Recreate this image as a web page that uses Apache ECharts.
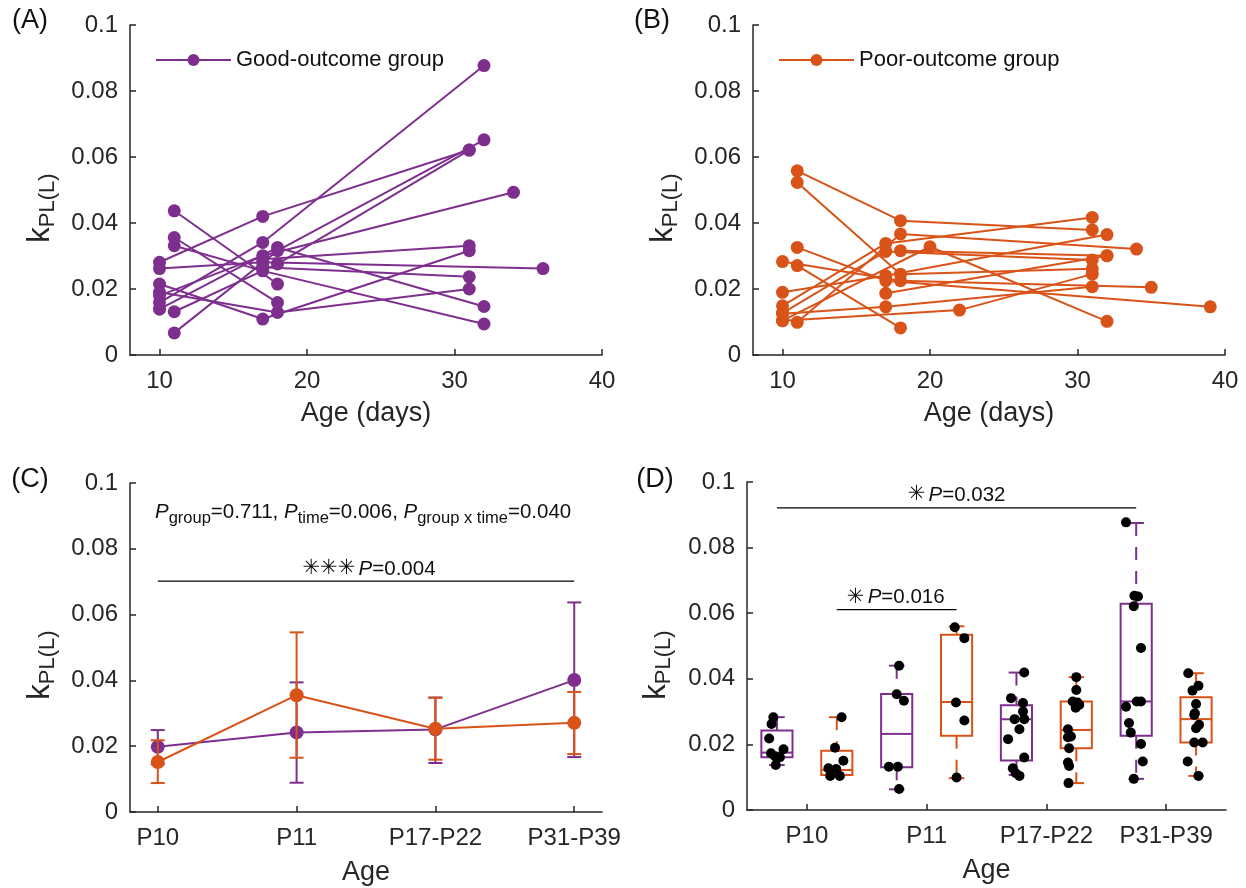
<!DOCTYPE html>
<html><head><meta charset="utf-8">
<script src="https://cdn.jsdelivr.net/npm/echarts@6/dist/echarts.min.js"></script>
<style>html,body{margin:0;padding:0;background:#fff}#c{width:1246px;height:888px}</style>
</head><body><div id="c"></div>
<script>
// ---------------- DATA ----------------
// Panel A: good-outcome subjects, each a list of [age (days), kPL(L)]
const goodSubjects = [
  [[10,0.0281],[17,0.0420],[31,0.0621]],
  [[11,0.0437],[18,0.0215]],
  [[11,0.0356],[18,0.0159]],
  [[11,0.0331],[17,0.0255],[32,0.0094]],
  [[10,0.0159],[17,0.0341],[32,0.0877]],
  [[11,0.0067],[18,0.0316],[32,0.0652]],
  [[11,0.0131],[18,0.0276],[31,0.0621]],
  [[10,0.0262],[17,0.0281],[36,0.0262]],
  [[10,0.0215],[17,0.0109],[31,0.0316]],
  [[10,0.0190],[18,0.0129],[31,0.0200]],
  [[10,0.0180],[17,0.0301],[34,0.0493]],
  [[10,0.0139],[18,0.0326],[32,0.0147]],
  [[17,0.0290],[31,0.0331]],
  [[17,0.0266],[31,0.0237]]
];
// Panel B: poor-outcome subjects
const poorSubjects = [
  [[11,0.0558],[18,0.0407],[31,0.0379]],
  [[11,0.0523],[18,0.0245],[31,0.0261]],
  [[10,0.0190],[17,0.0240],[32,0.0365]],
  [[11,0.0271],[18,0.0082]],
  [[11,0.0326],[17,0.0225],[39,0.0146]],
  [[11,0.0099],[18,0.0367],[34,0.0321]],
  [[10,0.0104],[20,0.0328],[32,0.0102]],
  [[10,0.0149],[17,0.0338],[31,0.0417]],
  [[10,0.0127],[17,0.0314],[31,0.0288]],
  [[10,0.0283],[18,0.0225],[35,0.0205]],
  [[10,0.0104],[22,0.0136],[31,0.0245]],
  [[10,0.0125],[17,0.0146],[31,0.0207]],
  [[17,0.0187],[32,0.0301]],
  [[18,0.0316],[32,0.0301]]
];
const ageTicks = [10,20,30,40];
const kTicksMax = 0.1;

// Panel C: mean and error bars per age group
const ageGroups = ['P10','P11','P17-P22','P31-P39'];
const goodMean = [0.0198,0.0242,0.0251,0.0401];
const goodLow  = [0.0145,0.0089,0.0149,0.0167];
const goodHigh = [0.0249,0.0394,0.0348,0.0637];
const poorMean = [0.0152,0.0355,0.0253,0.0271];
const poorLow  = [0.0088,0.0165,0.0159,0.0176];
const poorHigh = [0.0218,0.0546,0.0347,0.0365];
const sigC = {from:1, to:4, level:0.0702};

// Panel D: box stats [min, q1, median, q3, max] per age group
const goodBox = [
  [0.0137,0.0161,0.0175,0.0242,0.0283],
  [0.0063,0.0130,0.0232,0.0354,0.0440],
  [0.0107,0.0151,0.0277,0.0319,0.0419],
  [0.0095,0.0226,0.0331,0.0629,0.0875]
];
const poorBox = [
  [0.0104,0.0107,0.0122,0.0181,0.0283],
  [0.0097,0.0226,0.0329,0.0534,0.0560],
  [0.0082,0.0188,0.0244,0.0331,0.0405],
  [0.0104,0.0206,0.0277,0.0344,0.0417]
];
// individual points per age group (values) and their horizontal jitter
const goodDots = [
  [0.0283,0.0262,0.0218,0.0185,0.0173,0.0163,0.0161,0.0137],
  [0.0440,0.0353,0.0333,0.0132,0.0132,0.0064],
  [0.0419,0.0341,0.0326,0.0300,0.0277,0.0277,0.0246,0.0216,0.0160,0.0127,0.0112,0.0104],
  [0.0877,0.0653,0.0651,0.0621,0.0494,0.0331,0.0331,0.0315,0.0265,0.0236,0.0201,0.0148,0.0095]
];
const goodJitter = [
  [-0.06,-0.09,-0.13,0.11,-0.10,-0.03,0.05,-0.02],
  [0.04,0.0,0.12,-0.13,0.02,0.04],
  [0.13,-0.09,0.11,0.11,-0.03,0.13,0.05,-0.14,0.13,-0.06,-0.01,0.05],
  [-0.17,-0.03,0.03,-0.04,0.08,0.01,0.08,-0.17,-0.12,-0.09,0.08,0.11,-0.04]
];
const poorDots = [
  [0.0283,0.0190,0.0150,0.0127,0.0125,0.0104,0.0104],
  [0.0557,0.0524,0.0328,0.0273,0.0099],
  [0.0405,0.0366,0.0331,0.0328,0.0321,0.0312,0.0246,0.0224,0.0222,0.0188,0.0145,0.0134,0.0082],
  [0.0417,0.0379,0.0364,0.0323,0.0295,0.0290,0.0260,0.0249,0.0206,0.0206,0.0148,0.0104]
];
const poorJitter = [
  [0.08,-0.03,0.11,-0.14,-0.01,-0.11,0.05],
  [-0.03,0.13,-0.01,0.13,0.0],
  [0.0,0.0,-0.06,0.02,0.05,-0.01,-0.14,-0.09,-0.14,-0.12,-0.14,-0.12,-0.13],
  [-0.13,0.04,-0.06,0.0,-0.02,-0.03,0.05,0.0,-0.03,0.11,-0.14,0.04]
];
const sigD = [{from:1, to:7, level:0.0921, text:'P=0.032'}, {from:2, to:4, level:0.0611, text:'P=0.016'}];

// ---------------- STYLE ----------------
const PURPLE = '#7E2F8E', ORANGE = '#D95319', INK = '#262626';
const FONT = '"Liberation Sans", Arial, Helvetica, sans-serif';

const chart = echarts.init(document.getElementById('c'), null, {renderer:'canvas'});

const grids = [
  {left:130, top:25, width:472, height:330},
  {left:753, top:25, width:472, height:330},
  {left:130, top:483, width:472, height:329},
  {left:747, top:482, width:479, height:328}
].map(g => Object.assign({outerBoundsMode:'none', containLabel:false}, g));

const axLine = {show:true, onZero:false, lineStyle:{color:INK, width:1.5}};
const axTick = {show:true, inside:true, length:6, lineStyle:{color:INK, width:1.5}};
const labStyle = {color:INK, fontSize:24, fontFamily:FONT};

function yAx(gi){
  return {gridIndex:gi, type:'value', min:0, max:kTicksMax, interval:0.02,
    axisLine:axLine, axisTick:axTick, splitLine:{show:false},
    axisLabel:Object.assign({margin:12, formatter:v => String(Math.round(v*100)/100)}, labStyle)};
}
function xAx(gi, min, max, ticks, fmt, name, gap){
  return {gridIndex:gi, type:'value', min:min, max:max,
    axisLine:axLine, splitLine:{show:false},
    axisTick:Object.assign({customValues:ticks}, axTick),
    axisLabel:Object.assign({margin:14, customValues:ticks, formatter:fmt, showMinLabel:true, showMaxLabel:true}, labStyle),
    name:name, nameLocation:'middle', nameGap:gap,
    nameTextStyle:{color:INK, fontSize:27, fontFamily:FONT}};
}

const series = [];
goodSubjects.forEach(s => series.push({type:'line', name:'Good-outcome group', xAxisIndex:0, yAxisIndex:0,
  data:s, symbol:'circle', symbolSize:13, color:PURPLE, lineStyle:{width:2, color:PURPLE},
  itemStyle:{color:PURPLE, opacity:1}, animation:false}));
poorSubjects.forEach(s => series.push({type:'line', name:'Poor-outcome group', xAxisIndex:1, yAxisIndex:1,
  data:s, symbol:'circle', symbolSize:13, color:ORANGE, lineStyle:{width:2, color:ORANGE},
  itemStyle:{color:ORANGE, opacity:1}, animation:false}));

// Panel C
function errRender(color){
  return function(params, api){
    const x = api.value(0);
    const lo = api.coord([x, api.value(1)]), hi = api.coord([x, api.value(2)]);
    const cw = 7;
    const st = {stroke:color, lineWidth:2};
    return {type:'group', children:[
      {type:'line', shape:{x1:lo[0], y1:lo[1], x2:hi[0], y2:hi[1]}, style:st},
      {type:'line', shape:{x1:lo[0]-cw, y1:lo[1], x2:lo[0]+cw, y2:lo[1]}, style:st},
      {type:'line', shape:{x1:hi[0]-cw, y1:hi[1], x2:hi[0]+cw, y2:hi[1]}, style:st}
    ]};
  };
}
series.push({type:'custom', name:'gErr', xAxisIndex:2, yAxisIndex:2, renderItem:errRender(PURPLE),
  encode:{x:0, y:[1,2]}, data:ageGroups.map((a,i)=>[i+1, goodLow[i], goodHigh[i]]), z:2, silent:true, animation:false});
series.push({type:'line', name:'gMean', xAxisIndex:2, yAxisIndex:2, data:goodMean.map((v,i)=>[i+1,v]),
  symbol:'circle', symbolSize:14, color:PURPLE, lineStyle:{width:2,color:PURPLE}, itemStyle:{color:PURPLE}, z:3, animation:false});
series.push({type:'custom', name:'pErr', xAxisIndex:2, yAxisIndex:2, renderItem:errRender(ORANGE),
  encode:{x:0, y:[1,2]}, data:ageGroups.map((a,i)=>[i+1, poorLow[i], poorHigh[i]]), z:4, silent:true, animation:false});
series.push({type:'line', name:'pMean', xAxisIndex:2, yAxisIndex:2, data:poorMean.map((v,i)=>[i+1,v]),
  symbol:'circle', symbolSize:14, color:ORANGE, lineStyle:{width:2,color:ORANGE}, itemStyle:{color:ORANGE}, z:5, animation:false});
series.push({type:'line', name:'sigC', xAxisIndex:2, yAxisIndex:2, data:[[sigC.from,sigC.level],[sigC.to,sigC.level]],
  symbol:'none', lineStyle:{width:1.2, color:'#000'}, silent:true, animation:false});

// Panel D
function boxRender(color){
  return function(params, api){
    const x = api.value(0);
    const c = v => api.coord([x, v]);
    const pMin=c(api.value(1)), pQ1=c(api.value(2)), pMd=c(api.value(3)), pQ3=c(api.value(4)), pMax=c(api.value(5));
    const hw = api.size([1,0])[0]*0.26, cw = hw*0.5, cx = pMd[0];
    const solid = {stroke:color, lineWidth:2};
    const dashed = {stroke:color, lineWidth:2, lineDash:[13,11]};
    return {type:'group', children:[
      {type:'line', shape:{x1:cx, y1:pMax[1], x2:cx, y2:pQ3[1]}, style:dashed},
      {type:'line', shape:{x1:cx, y1:pQ1[1], x2:cx, y2:pMin[1]}, style:dashed},
      {type:'line', shape:{x1:cx-cw, y1:pMax[1], x2:cx+cw, y2:pMax[1]}, style:solid},
      {type:'line', shape:{x1:cx-cw, y1:pMin[1], x2:cx+cw, y2:pMin[1]}, style:solid},
      {type:'rect', shape:{x:cx-hw, y:pQ3[1], width:2*hw, height:pQ1[1]-pQ3[1]}, style:{stroke:color, lineWidth:2, fill:'rgba(0,0,0,0)'}},
      {type:'line', shape:{x1:cx-hw, y1:pMd[1], x2:cx+hw, y2:pMd[1]}, style:solid}
    ]};
  };
}
series.push({type:'custom', name:'gBox', xAxisIndex:3, yAxisIndex:3, renderItem:boxRender(PURPLE),
  encode:{x:0, y:[1,2,3,4,5]}, data:goodBox.map((b,i)=>[2*i+1].concat(b)), silent:true, animation:false, z:2});
series.push({type:'custom', name:'pBox', xAxisIndex:3, yAxisIndex:3, renderItem:boxRender(ORANGE),
  encode:{x:0, y:[1,2,3,4,5]}, data:poorBox.map((b,i)=>[2*i+2].concat(b)), silent:true, animation:false, z:2});
const dots = [];
goodDots.forEach((arr,i)=>arr.forEach((v,j)=>dots.push([2*i+1+goodJitter[i][j], v])));
poorDots.forEach((arr,i)=>arr.forEach((v,j)=>dots.push([2*i+2+poorJitter[i][j], v])));
series.push({type:'scatter', name:'dots', xAxisIndex:3, yAxisIndex:3, data:dots, symbol:'circle', symbolSize:10,
  itemStyle:{color:'#000', opacity:1}, z:6, silent:true, animation:false});
sigD.forEach((s,k)=>series.push({type:'line', name:'sigD'+k, xAxisIndex:3, yAxisIndex:3,
  data:[[s.from,s.level],[s.to,s.level]], symbol:'none', lineStyle:{width:1.2,color:'#000'}, silent:true, animation:false}));

const legendBase = {orient:'horizontal', itemWidth:75, itemHeight:15, itemGap:10, top:49, padding:0,
  textStyle:{fontSize:22, color:'#111', fontFamily:FONT}, selectedMode:false};

chart.setOption({
  animation:false,
  backgroundColor:'#fff',
  grid:grids,
  xAxis:[
    xAx(0, 8, 40, ageTicks, v=>String(v), 'Age (days)', 45),
    xAx(1, 8, 40, ageTicks, v=>String(v), 'Age (days)', 45),
    xAx(2, 0.8, 4.2, [1,2,3,4], v=>ageGroups[Math.round(v)-1], 'Age', 47),
    xAx(3, 0.5, 8.5, [1.5,3.5,5.5,7.5], v=>ageGroups[Math.round((v-1.5)/2)], 'Age', 47)
  ],
  yAxis:[yAx(0), yAx(1), yAx(2), yAx(3)],
  legend:[
    Object.assign({}, legendBase, {data:['Good-outcome group'], left:155}),
    Object.assign({}, legendBase, {data:['Poor-outcome group'], left:778})
  ],
  series:series
});

// ---------------- TEXT ----------------
const yName = (x,y) => ({type:'text', x:x, y:y, rotation:Math.PI/2,
  style:{text:'{k|k}{s|PL(L)}', align:'center', verticalAlign:'middle', fill:INK,
    rich:{k:{fontSize:31, fontFamily:FONT, lineHeight:38, fill:INK}, s:{fontSize:22, fontFamily:FONT, verticalAlign:'bottom', lineHeight:20, fill:INK}}}});
const panel = (t,x,y) => ({type:'text', x:x, y:y, style:{text:t, fontSize:27, fontFamily:FONT, fill:'#111', align:'center', verticalAlign:'middle'}});
const rich = {
  n:{fontSize:20.5, fontFamily:FONT, fill:'#111', lineHeight:30},
  i:{fontSize:20.5, fontFamily:FONT, fontStyle:'italic', fill:'#111', lineHeight:30},
  s:{fontSize:16.5, fontFamily:FONT, fill:'#111', verticalAlign:'bottom', lineHeight:15},
  a:{fontSize:21, fontFamily:'"DejaVu Sans", sans-serif', fill:'#111', lineHeight:30}
};
const pc = chart.convertToPixel({xAxisIndex:2, yAxisIndex:2}, [(sigC.from+sigC.to)/2, sigC.level]);
const pd0 = chart.convertToPixel({xAxisIndex:3, yAxisIndex:3}, [(sigD[0].from+sigD[0].to)/2, sigD[0].level]);
const pd1 = chart.convertToPixel({xAxisIndex:3, yAxisIndex:3}, [(sigD[1].from+sigD[1].to)/2, sigD[1].level]);
chart.setOption({graphic:[
  panel('(A)', 30, 21), panel('(B)', 652, 21), panel('(C)', 30, 480), panel('(D)', 655, 480),
  yName(40, 208), yName(663, 208), yName(40, 665), yName(656, 665),
  {type:'text', x:155, y:512, style:{text:'{i|P}{s|group}{n|=0.711, }{i|P}{s|time}{n|=0.006, }{i|P}{s|group x time}{n|=0.040}',
    align:'left', verticalAlign:'middle', rich:rich}},
  {type:'text', x:pc[0]+3, y:pc[1]-12, style:{text:'{a|\u2733\u2733\u2733} {i|P}{n|=0.004}', align:'center', verticalAlign:'middle', rich:rich}},
  {type:'text', x:pd0[0], y:pd0[1]-13, style:{text:'{a|\u2733} {i|P}{n|'+sigD[0].text.slice(1)+'}', align:'center', verticalAlign:'middle', rich:rich}},
  {type:'text', x:pd1[0]-1, y:pd1[1]-12, style:{text:'{a|\u2733} {i|P}{n|'+sigD[1].text.slice(1)+'}', align:'center', verticalAlign:'middle', rich:rich}}
]});
</script></body></html>
